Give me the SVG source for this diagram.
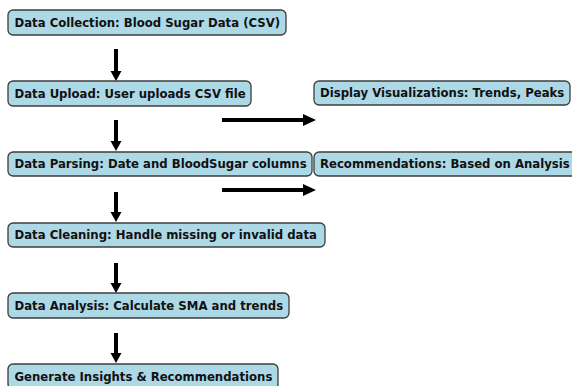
<svg xmlns="http://www.w3.org/2000/svg" width="572" height="386" viewBox="0 0 572 386">
<style>
.box{fill:#add8e6;stroke:#3c3c3c;stroke-width:1.3}
.t{font-family:"DejaVu Sans",sans-serif;font-weight:bold;font-size:11.7px;fill:#111}
.ar{stroke:#000;stroke-width:4;fill:none}
.hd{fill:#000}
</style>
<rect width="572" height="386" fill="#fff"/>
<g id="connectors">
<line class="ar" x1="116" y1="49" x2="116" y2="72"/><polygon class="hd" points="110.5,71 121.5,71 116,81"/>
<line class="ar" x1="116" y1="120" x2="116" y2="142"/><polygon class="hd" points="110.5,141 121.5,141 116,151"/>
<line class="ar" x1="116" y1="192" x2="116" y2="213"/><polygon class="hd" points="110.5,212 121.5,212 116,222"/>
<line class="ar" x1="116" y1="263" x2="116" y2="284"/><polygon class="hd" points="110.5,283 121.5,283 116,293"/>
<line class="ar" x1="116" y1="333" x2="116" y2="354"/><polygon class="hd" points="110.5,353 121.5,353 116,363"/>
<line class="ar" x1="222" y1="120" x2="304" y2="120"/><polygon class="hd" points="303,114 303,126 316,120"/>
<line class="ar" x1="222" y1="190" x2="304" y2="190"/><polygon class="hd" points="303,184 303,196 316,190"/>
</g>
<g id="collection"><rect class="box" x="8" y="10" width="278" height="25" rx="5"/><text class="t" x="14.5" y="26.9">Data Collection: Blood Sugar Data (CSV)</text></g>
<g id="upload"><rect class="box" x="8" y="81" width="243" height="25" rx="5"/><text class="t" x="14.5" y="97.9">Data Upload: User uploads CSV file</text></g>
<g id="parsing"><rect class="box" x="8" y="152" width="304" height="24" rx="5"/><text class="t" x="14.5" y="168.4">Data Parsing: Date and BloodSugar columns</text></g>
<g id="cleaning"><rect class="box" x="8" y="223" width="317" height="24" rx="5"/><text class="t" x="14.5" y="239.4">Data Cleaning: Handle missing or invalid data</text></g>
<g id="analysis"><rect class="box" x="8" y="293" width="281" height="25" rx="5"/><text class="t" x="14.5" y="309.9">Data Analysis: Calculate SMA and trends</text></g>
<g id="insights"><rect class="box" x="8" y="364" width="270" height="25" rx="5"/><text class="t" x="14.5" y="380.9">Generate Insights &amp; Recommendations</text></g>
<g id="display"><rect class="box" x="314" y="81" width="256" height="24" rx="5"/><text class="t" x="320" y="97.4">Display Visualizations: Trends, Peaks</text></g>
<g id="recommendations"><rect class="box" x="314" y="152" width="266" height="24" rx="5"/><text class="t" x="320" y="168.4">Recommendations: Based on Analysis</text></g>
</svg>
